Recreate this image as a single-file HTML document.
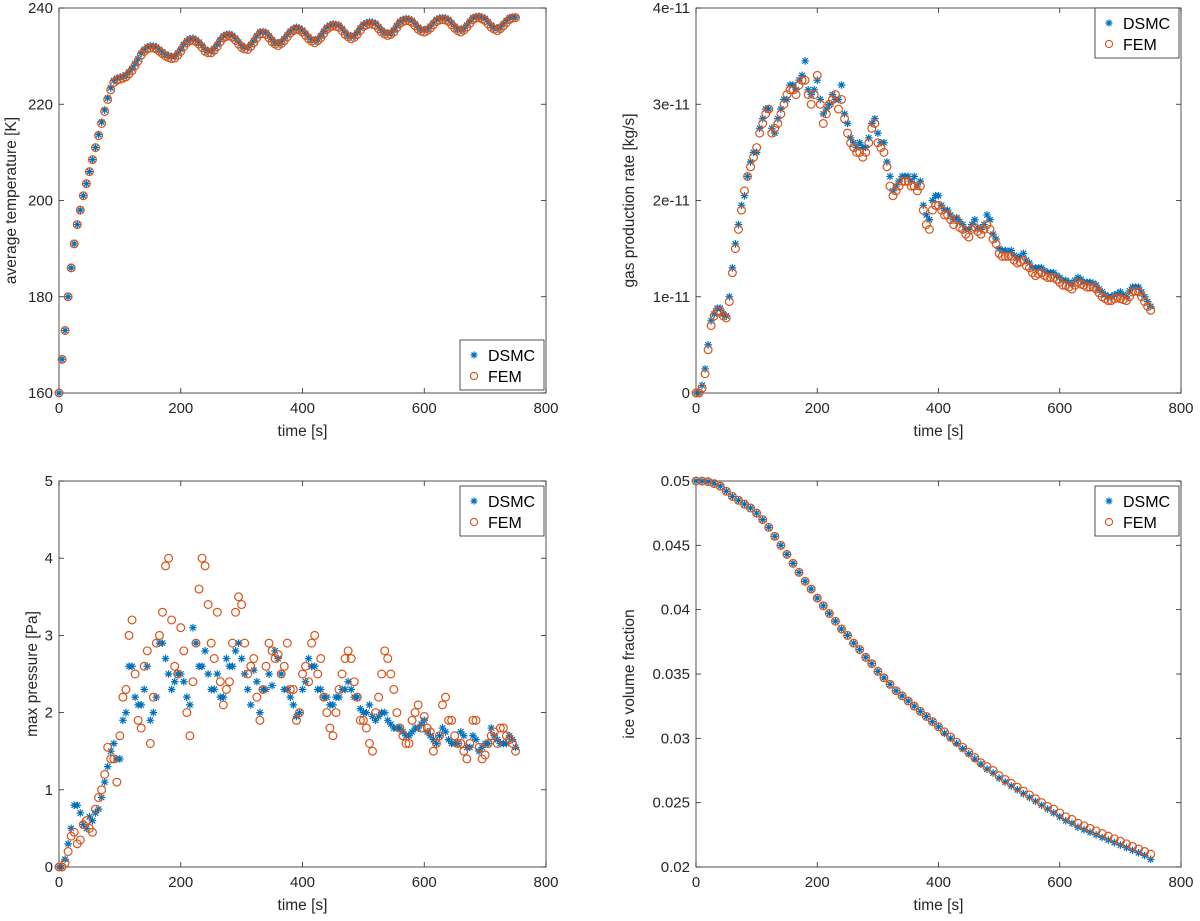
<!DOCTYPE html>
<html><head><meta charset="utf-8"><style>
html,body{margin:0;padding:0;background:#fff;}
svg{display:block;font-family:"Liberation Sans",Arial,sans-serif;}
</style></head><body>
<svg id="fig" width="1200" height="921" viewBox="0 0 1200 921" xmlns="http://www.w3.org/2000/svg"></svg>
<script>
const times=[0,10,20,30,40,50,60,70,80,90,100,110,120,130,140,150,160,170,180,190,200,210,220,230,240,250,260,270,280,290,300,310,320,330,340,350,360,370,380,390,400,410,420,430,440,450,460,470,480,490,500,510,520,530,540,550,560,570,580,590,600,610,620,630,640,650,660,670,680,690,700,710,720,730,740,750];
const timesMid=[5,15,25,35,45,55,65,75,85,95,105,115,125,135,145,155,165,175,185,195,205,215,225,235,245,255,265,275,285,295,305,315,325,335,345,355,365,375,385,395,405,415,425,435,445,455,465,475,485,495,505,515,525,535,545,555,565,575,585,595,605,615,625,635,645,655,665,675,685,695,705,715,725,735,745];
const tempFEM=[160,173,186,195,201,206,211,216,221,224.5,225.2,225.7,227,229,231,231.7,231.5,230.5,229.7,229.6,231,232.8,233.3,232.5,231,230.7,232,233.8,234.2,233.3,231.8,231.4,232.8,234.6,234.5,233,232.2,233.2,234.8,235.6,235,233.6,232.8,233.8,235.6,236.3,236,234.5,233.6,234.5,236.2,236.7,236.4,235,234.3,235,236.8,237.4,237,235.6,235,235.8,237.2,237.6,237.2,235.8,235,236,237.6,238,237.4,236,235.3,236.3,237.6,238];
const tempFEMMid=[167,180,191,198,203.5,208.5,213.5,218.5,223,225,225.4,226.3,228,230.2,231.5,231.7,231,230,229.5,230.2,232,233.2,233,231.8,230.7,231.2,233,234.1,233.9,232.5,231.5,232,233.8,234.7,233.8,232.5,232.6,234,235.3,235.4,234.3,233.1,233.2,234.7,236,236.2,235.3,234,233.9,235.4,236.5,236.6,235.7,234.6,234.5,235.9,237.2,237.3,236.3,235.2,235.3,236.5,237.5,237.5,236.5,235.3,235.4,236.8,237.9,237.7,236.7,235.6,235.7,237,237.9];
const tempDSMC=[160,173,186,195,201,206,211,216.3,221.3,224.9,225.6,226.1,227.4,229.4,231.4,232.1,231.9,230.9,230.1,230,231.4,233.2,233.7,232.9,231.4,231.1,232.4,234.2,234.6,233.7,232.2,231.8,233.2,235,234.9,233.4,232.6,233.6,235.2,236,235.4,234,233.2,234.2,236,236.7,236.4,234.9,234,234.9,236.6,237.1,236.8,235.4,234.7,235.4,237.2,237.8,237.4,236,235.4,236.2,237.6,238,237.6,236.2,235.4,236.4,238,238.3,237.8,236.4,235.7,236.7,238,238.1];
const tempDSMCMid=[167,180,191,198,203.5,208.5,213.7,218.8,223.4,225.4,225.8,226.7,228.4,230.6,231.9,232.1,231.4,230.4,229.9,230.6,232.4,233.6,233.4,232.2,231.1,231.6,233.4,234.5,234.3,232.9,231.9,232.4,234.2,235.1,234.2,232.9,233,234.4,235.7,235.8,234.7,233.5,233.6,235.1,236.4,236.6,235.7,234.4,234.3,235.8,236.9,237,236.1,235,234.9,236.3,237.6,237.7,236.7,235.6,235.7,236.9,237.9,237.9,236.9,235.7,235.8,237.2,238.2,238.1,237.1,236,236.1,237.4,238.1];
const gasFEM=[0,0.05,0.45,0.8,0.85,0.78,1.25,1.7,2.1,2.35,2.55,2.8,2.95,2.75,2.9,3.1,3.15,3.2,3.25,3.0,3.3,2.8,3.0,3.1,3.05,2.7,2.55,2.5,2.5,2.75,2.6,2.5,2.15,2.1,2.2,2.2,2.15,2.15,1.75,1.9,1.95,1.85,1.8,1.8,1.7,1.62,1.72,1.65,1.75,1.6,1.45,1.42,1.42,1.35,1.38,1.3,1.22,1.25,1.2,1.2,1.15,1.12,1.08,1.15,1.12,1.1,1.08,1.0,0.96,0.98,0.98,0.96,1.05,1.05,0.95,0.86];
const gasFEMMid=[0,0.2,0.7,0.85,0.8,0.95,1.5,1.9,2.25,2.45,2.7,2.9,2.7,2.8,3.0,3.15,3.1,3.25,3.1,3.1,3.0,2.9,3.05,2.95,2.85,2.6,2.5,2.45,2.6,2.8,2.55,2.35,2.05,2.15,2.2,2.15,2.1,1.9,1.7,1.95,1.9,1.85,1.75,1.72,1.65,1.7,1.68,1.7,1.7,1.55,1.42,1.42,1.38,1.36,1.32,1.25,1.24,1.22,1.2,1.18,1.12,1.1,1.12,1.13,1.1,1.1,1.04,0.98,0.96,0.99,0.97,1.0,1.06,1.0,0.9];
const gasDSMC=[0,0.08,0.5,0.82,0.88,0.8,1.3,1.75,2.05,2.4,2.5,2.85,2.95,2.7,2.95,3.05,3.2,3.25,3.45,3.1,3.25,2.9,3.0,3.05,3.2,2.8,2.6,2.6,2.55,2.8,2.7,2.6,2.25,2.15,2.25,2.25,2.25,2.2,1.85,2.0,2.05,1.9,1.85,1.82,1.75,1.7,1.8,1.7,1.85,1.65,1.5,1.48,1.48,1.4,1.45,1.35,1.3,1.3,1.25,1.25,1.2,1.17,1.13,1.2,1.15,1.15,1.12,1.05,1.0,1.02,1.05,1.0,1.1,1.1,1.0,0.9];
const gasDSMCMid=[0,0.25,0.75,0.88,0.82,1.0,1.55,1.95,2.25,2.5,2.75,2.95,2.75,2.85,3.05,3.2,3.15,3.3,3.15,3.15,3.05,2.95,3.1,3.05,2.9,2.65,2.55,2.55,2.65,2.85,2.6,2.4,2.1,2.2,2.25,2.2,2.15,1.95,1.8,2.05,1.95,1.9,1.8,1.78,1.7,1.75,1.72,1.75,1.8,1.6,1.48,1.47,1.43,1.42,1.38,1.3,1.3,1.27,1.25,1.22,1.17,1.15,1.17,1.18,1.15,1.14,1.08,1.02,1.0,1.03,1.02,1.06,1.1,1.05,0.95];
const presFEM=[0,0.05,0.4,0.3,0.55,0.5,0.75,1.0,1.55,1.4,1.7,2.3,3.2,1.9,2.6,1.6,2.9,3.3,4.0,2.6,3.1,2.0,2.4,3.6,3.9,2.9,3.3,2.1,2.4,3.3,3.4,2.5,2.7,1.9,2.6,2.8,2.75,2.6,2.3,1.9,2.5,2.4,3.0,2.7,2.0,1.7,2.3,2.7,2.7,2.2,1.9,1.6,2.0,2.5,2.7,2.3,1.8,1.6,1.9,2.1,1.95,1.75,1.6,2.1,1.9,1.7,1.6,1.4,1.9,1.55,1.45,1.7,1.6,1.8,1.65,1.5];
const presFEMMid=[0,0.2,0.45,0.35,0.6,0.45,0.9,1.2,1.4,1.1,2.2,3.0,2.5,1.8,2.8,2.2,3.0,3.9,3.2,2.5,2.8,1.7,2.9,4.0,3.4,2.7,2.4,2.3,2.9,3.5,2.9,2.6,2.2,2.3,2.9,2.7,2.5,2.9,2.3,2.0,2.6,2.9,2.5,2.2,1.8,2.0,2.5,2.8,2.4,1.9,1.8,1.5,2.2,2.8,2.5,2.0,1.7,1.6,2.0,1.8,1.8,1.5,1.7,2.2,1.9,1.6,1.5,1.6,1.9,1.4,1.6,1.75,1.8,1.7,1.6];
const presDSMC=[0,0.1,0.5,0.8,0.55,0.65,0.7,0.9,1.3,1.6,1.4,2.0,2.6,2.1,2.3,1.9,2.2,2.9,2.5,2.4,2.5,2.2,3.1,2.6,2.8,2.3,2.5,2.2,2.6,2.8,2.7,2.3,2.55,2.0,2.3,2.35,2.7,2.3,2.2,1.95,2.3,2.7,2.6,2.3,2.2,2.1,2.2,2.3,2.3,2.2,2.0,2.1,1.9,2.0,1.9,1.8,1.8,1.7,1.75,1.8,1.9,1.7,1.6,1.8,1.65,1.6,1.75,1.55,1.7,1.5,1.6,1.8,1.65,1.6,1.7,1.55];
const presDSMCMid=[0,0.3,0.8,0.7,0.5,0.6,0.75,1.1,1.5,1.4,1.9,2.6,2.2,2.1,2.6,2.0,2.9,2.7,2.3,2.5,2.4,2.1,2.9,2.6,2.5,2.3,2.2,2.7,2.6,2.9,2.5,2.1,2.4,2.3,2.5,2.8,2.5,2.3,2.1,2.0,2.4,2.6,2.3,2.2,2.1,2.2,2.3,2.4,2.2,2.05,2.0,1.95,1.95,2.0,1.85,1.8,1.75,1.7,1.8,1.85,1.75,1.65,1.7,1.75,1.6,1.6,1.7,1.55,1.65,1.55,1.6,1.7,1.6,1.6,1.65];
const iceFEM=[0.05,0.04999,0.04995,0.0498,0.0496,0.0492,0.0488,0.0485,0.0482,0.0479,0.0475,0.047,0.0464,0.0457,0.045,0.0443,0.0436,0.0429,0.0422,0.0416,0.0409,0.0403,0.0397,0.0391,0.0385,0.038,0.0374,0.0369,0.0363,0.0358,0.0352,0.0347,0.0342,0.0337,0.0333,0.0329,0.0325,0.0321,0.0317,0.0313,0.0309,0.0305,0.0301,0.0297,0.0293,0.0289,0.0285,0.0281,0.0278,0.0275,0.0271,0.0268,0.0265,0.0262,0.0259,0.0256,0.0253,0.025,0.0247,0.0245,0.0242,0.0239,0.0237,0.0234,0.0232,0.023,0.0228,0.0226,0.0224,0.0222,0.022,0.0218,0.0216,0.0214,0.0212,0.021];
const iceDSMC=[0.05,0.04999,0.04995,0.0498,0.0496,0.0492,0.0488,0.0485,0.0482,0.0479,0.0475,0.047,0.0464,0.0457,0.045,0.0443,0.0436,0.0429,0.0422,0.0416,0.0409,0.0403,0.0397,0.0391,0.0385,0.038,0.0374,0.0369,0.0363,0.0358,0.0352,0.0347,0.0342,0.0337,0.0333,0.0329,0.0325,0.0321,0.0317,0.0313,0.0309,0.0304,0.03,0.0296,0.0292,0.0288,0.0284,0.028,0.0276,0.0273,0.0269,0.0266,0.0263,0.026,0.0257,0.0254,0.0251,0.0248,0.0245,0.0242,0.0239,0.0236,0.0234,0.0231,0.0229,0.0227,0.0225,0.0223,0.0221,0.0219,0.0217,0.0215,0.0213,0.0211,0.0209,0.0206];
const xTicks=[0,200,400,600,800];
const tempTicks=[160,180,200,220,240];
const gasTicks=[0,1,2,3,4];
const gasTickLabels=["0","1e-11","2e-11","3e-11","4e-11"];
const presTicks=[0,1,2,3,4,5];
const iceTicks=[0.02,0.025,0.03,0.035,0.04,0.045,0.05];
const iceTickLabels=["0.02","0.025","0.03","0.035","0.04","0.045","0.05"];

const NS="http://www.w3.org/2000/svg";
const svg=document.getElementById('fig');
function mk(tag,attrs,parent){const e=document.createElementNS(NS,tag);for(const k in attrs)e.setAttribute(k,attrs[k]);(parent||svg).appendChild(e);return e;}
function star(x,y,parent,s){
  const d=s||3.8, e=d*0.72;
  return mk('path',{d:`M${x-d},${y}H${x+d}M${x},${y-d}V${y+d}M${x-e},${y-e}L${x+e},${y+e}M${x-e},${y+e}L${x+e},${y-e}`,stroke:'#0072BD','stroke-width':1.2,fill:'none'},parent);
}

function panel(p){
  const g=mk('g',{});
  
  
  const sx=v=>p.x0+(v-p.xmin)/(p.xmax-p.xmin)*(p.x1-p.x0);
  const sy=v=>p.y1-(v-p.ymin)/(p.ymax-p.ymin)*(p.y1-p.y0);
  const box=mk('rect',{x:p.x0,y:p.y0,width:p.x1-p.x0,height:p.y1-p.y0,fill:'#fff',stroke:'#262626','stroke-width':0.8},g);
  
  
  xTicks.forEach(t=>{
    const x=sx(t);
    mk('line',{x1:x,y1:p.y1,x2:x,y2:p.y1-5,stroke:'#262626','stroke-width':0.8},g);
    mk('line',{x1:x,y1:p.y0,x2:x,y2:p.y0+5,stroke:'#262626','stroke-width':0.8},g);
    const tl=mk('text',{x:x,y:p.y1+20,'font-size':15,'text-anchor':'middle',fill:'#262626'},g);
    tl.textContent=String(t);
    
    
  });
  p.yticks.forEach((t,i)=>{
    const y=sy(t);
    mk('line',{x1:p.x0,y1:y,x2:p.x0+5,y2:y,stroke:'#262626','stroke-width':0.8},g);
    mk('line',{x1:p.x1,y1:y,x2:p.x1-5,y2:y,stroke:'#262626','stroke-width':0.8},g);
    const tl=mk('text',{x:p.x0-6,y:y+5,'font-size':15,'text-anchor':'end',fill:'#262626'},g);
    tl.textContent=p.ylabels?p.ylabels[i]:String(t);
    
    
  });
  const xt=mk('text',{x:(p.x0+p.x1)/2,y:p.y1+43,'font-size':15.5,'text-anchor':'middle',fill:'#262626'},g);
  xt.textContent='time [s]';
  
  
  const cy=(p.y0+p.y1)/2;
  const yt=mk('text',{x:p.ylx,y:cy,'font-size':15.5,'text-anchor':'middle',fill:'#262626',transform:`rotate(-90 ${p.ylx} ${cy})`},g);
  yt.textContent=p.ylabel;
  
  
  const sd=mk('g',{},g);
  
  
  p.dsmc.forEach(([ts,vals])=>vals.forEach((v,i)=>{
    const m=star(sx(ts[i]),sy(v),sd);
    
    
  }));
  const sf=mk('g',{},g);
  
  
  p.fem.forEach(([ts,vals])=>vals.forEach((v,i)=>{
    const m=mk('circle',{cx:sx(ts[i]),cy:sy(v),r:3.9,stroke:'#D95319','stroke-width':1.2,fill:'none'},sf);
    
    
  }));
  const lg=mk('g',{},g);
  
  
  const L=p.leg;
  mk('rect',{x:L[0],y:L[1],width:84,height:50,fill:'#fff',stroke:'#262626','stroke-width':0.8},lg);
  const ax=L[0]+14, a1=L[1]+15, a2=L[1]+36;
  star(ax,a1,lg,3.5);
  mk('circle',{cx:ax,cy:a2,r:3.6,stroke:'#D95319','stroke-width':1.1,fill:'none'},lg);
  const t1=mk('text',{x:L[0]+28,y:a1+6,'font-size':16,fill:'#000'},lg);t1.textContent='DSMC';
  
  
  const t2=mk('text',{x:L[0]+28,y:a2+6,'font-size':16,fill:'#000'},lg);t2.textContent='FEM';
  
  
}

panel({name:'temperature-panel',x0:59,x1:546,y0:8,y1:393,xmin:0,xmax:800,ymin:160,ymax:240,yticks:tempTicks,ylabel:'average temperature [K]',ylx:16,dsmc:[[times,tempDSMC],[timesMid,tempDSMCMid]],fem:[[times,tempFEM],[timesMid,tempFEMMid]],leg:[460,340]});
panel({name:'gas-production-panel',x0:696,x1:1181,y0:8,y1:393,xmin:0,xmax:800,ymin:0,ymax:4,yticks:gasTicks,ylabels:gasTickLabels,ylabel:'gas production rate [kg/s]',ylx:634,dsmc:[[times,gasDSMC],[timesMid,gasDSMCMid]],fem:[[times,gasFEM],[timesMid,gasFEMMid]],leg:[1095,8]});
panel({name:'pressure-panel',x0:59,x1:546,y0:481,y1:867,xmin:0,xmax:800,ymin:0,ymax:5,yticks:presTicks,ylabel:'max pressure [Pa]',ylx:37,dsmc:[[times,presDSMC],[timesMid,presDSMCMid]],fem:[[times,presFEM],[timesMid,presFEMMid]],leg:[460,486]});
panel({name:'ice-fraction-panel',x0:696,x1:1181,y0:481,y1:867,xmin:0,xmax:800,ymin:0.02,ymax:0.05,yticks:iceTicks,ylabels:iceTickLabels,ylabel:'ice volume fraction',ylx:634,dsmc:[[times,iceDSMC]],fem:[[times,iceFEM]],leg:[1095,486]});
</script>
</body></html>
